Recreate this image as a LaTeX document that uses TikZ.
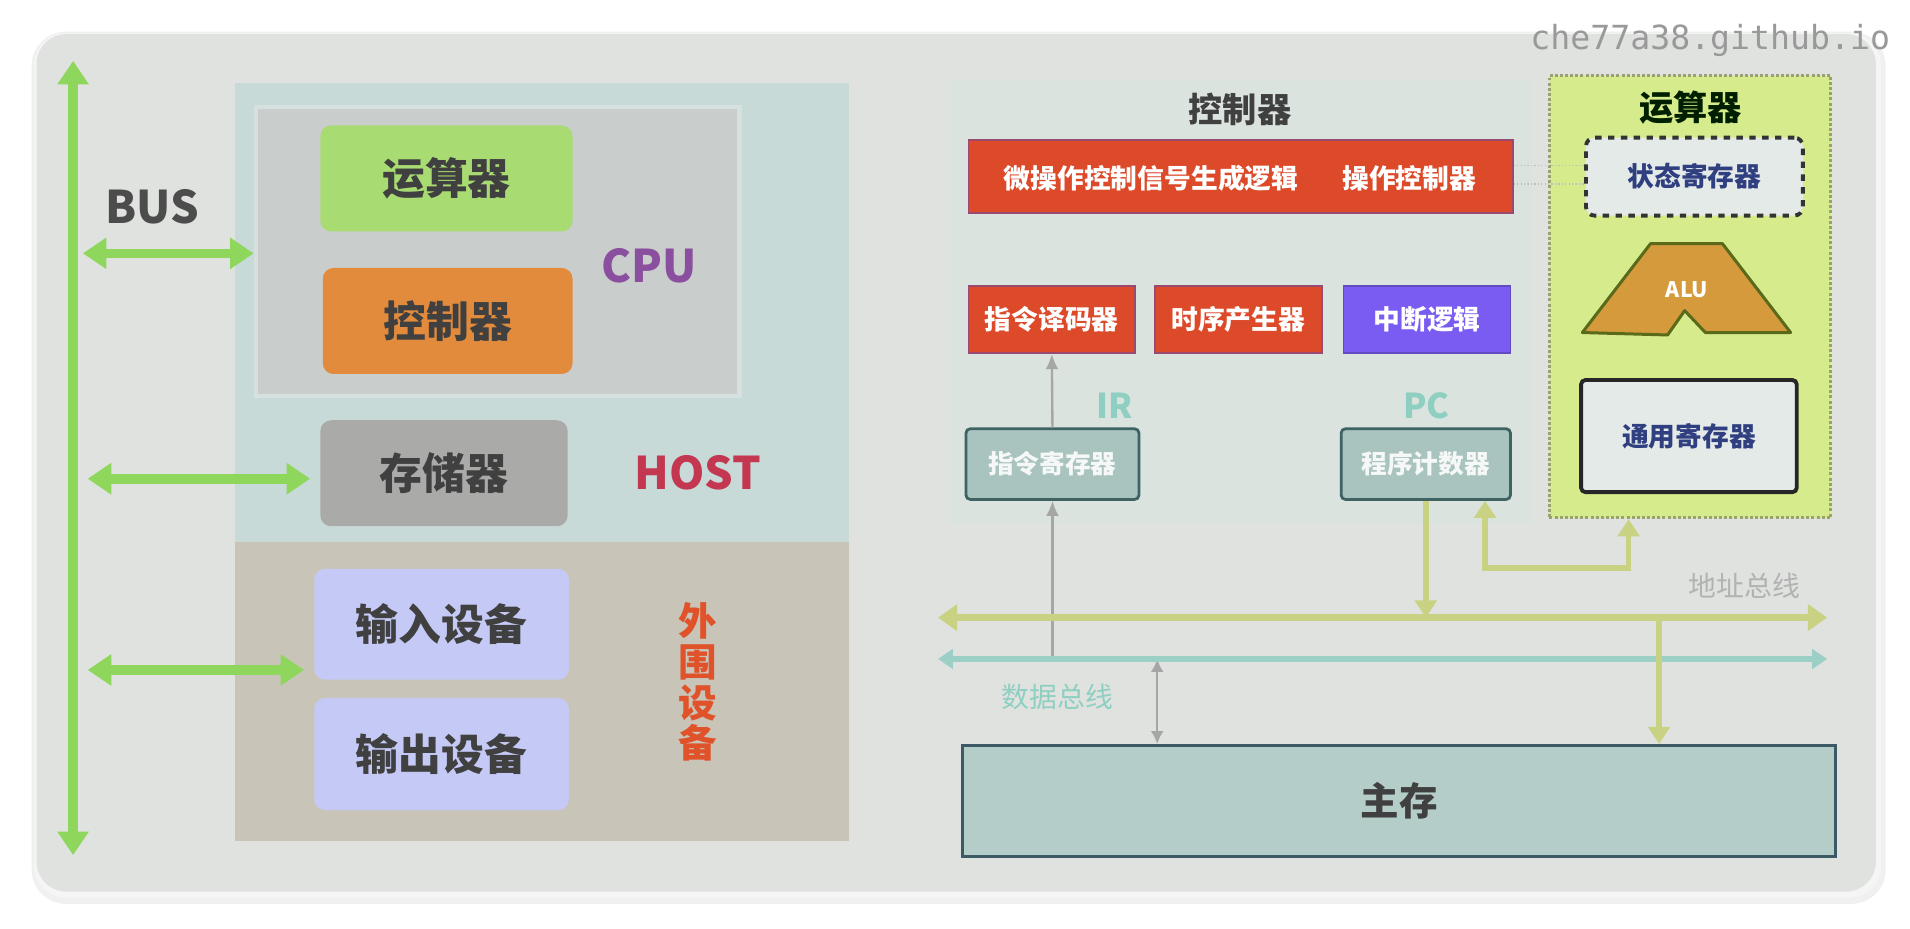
\documentclass[tikz,border=0pt]{standalone}
\usepackage{fontspec}
\setmainfont{Noto Sans CJK SC}
\newfontfamily\markfont{DejaVu Sans Mono}
\usetikzlibrary{arrows.meta,positioning}

\definecolor{panelbg}{HTML}{DFE2DF}
\definecolor{hostup}{HTML}{C8DAD8}
\definecolor{hostdown}{HTML}{C9C4B8}
\definecolor{cpugray}{HTML}{C9CDCC}
\definecolor{cpuedge}{HTML}{D6E0DE}
\definecolor{alugreen}{HTML}{A8DC72}
\definecolor{ctlorange}{HTML}{E38B3C}
\definecolor{memgray}{HTML}{AAABA9}
\definecolor{iolilac}{HTML}{C5C9F6}
\definecolor{busgreen}{HTML}{8FD65C}
\definecolor{cpupurple}{HTML}{8A4F9E}
\definecolor{hostred}{HTML}{C33750}
\definecolor{periorange}{HTML}{E0522A}
\definecolor{ctlpanel}{HTML}{DBE3DF}
\definecolor{ctlred}{HTML}{DD4A2A}
\definecolor{ctlredge}{HTML}{9A4A70}
\definecolor{irqviolet}{HTML}{7A5CF2}
\definecolor{regteal}{HTML}{A9C3BF}
\definecolor{regedge}{HTML}{3F6262}
\definecolor{lblteal}{HTML}{8FCFC2}
\definecolor{addrbus}{HTML}{C9D282}
\definecolor{databus}{HTML}{9CCFC6}
\definecolor{mainfill}{HTML}{B5CDC9}
\definecolor{mainedge}{HTML}{3C5A66}
\definecolor{alupanel}{HTML}{D6EC8C}
\definecolor{dotedge}{HTML}{9AA070}
\definecolor{regwhite}{HTML}{E3EAE8}
\definecolor{navytext}{HTML}{2F3F80}
\definecolor{alubrown}{HTML}{D49A3C}
\definecolor{aluedge}{HTML}{5A6A1A}

\tikzset{
  unit/.style={rounded corners=5pt, inner sep=0pt, text=black!75,
    minimum width=41.4mm, minimum height=17.4mm,
    font=\fontsize{20}{24}\selectfont\bfseries},
  ctlbox/.style={inner sep=0pt, draw=ctlredge, line width=0.8pt, text=white,
    minimum width=27.4mm, minimum height=11mm,
    font=\fontsize{12.5}{14}\selectfont\bfseries},
  regbox/.style={inner sep=0pt, fill=regteal, draw=regedge, line width=1.3pt,
    rounded corners=2pt, text=white!88!regteal,
    minimum width=28mm, minimum height=11.6mm,
    font=\fontsize{12}{14}\selectfont\bfseries},
  busarrow/.style={draw=busgreen, line width=4.5pt,
    {Triangle[width=14pt,length=11pt]}-{Triangle[width=14pt,length=11pt]}},
  abusline/.style={draw=addrbus, line width=3.6pt},
  thinlink/.style={draw=black!35, line width=1.1pt}
}

\begin{document}
\begin{tikzpicture}[x=0.2mm,y=-0.2mm]
    \useasboundingbox (0,0) rectangle (1568,762);
    \fill[white] (0,0) rectangle (1568,762);

    %%%%%%%% Panel %%%%%%%%
    \fill[black!6, rounded corners=16pt] (26,26) rectangle (1548,742);
    \fill[black!4, rounded corners=15pt] (28,27) rectangle (1544,737);
    \fill[panelbg, rounded corners=14pt] (30,28) rectangle (1540,732);

    %%%%%%%% Host %%%%%%%%
    \fill[hostup] (193,68) rectangle (697,445);
    \fill[hostdown] (193,445) rectangle (697,690);
    \node[inner sep=0pt, fill=cpugray, draw=cpuedge, line width=2pt,
          minimum width=79.4mm, minimum height=47.4mm] (cpu) at (408.5,206.5) {};

    \node[unit, fill=alugreen] (alu) at (366.5,146.5) {运算器};
    \node[unit, fill=ctlorange, minimum width=41mm] (ctl) at (367.5,263.5) {控制器};
    \node[unit, fill=memgray, minimum width=40.6mm] (mem) at (364.5,388.5) {存储器};
    \node[unit, fill=iolilac, minimum width=41.8mm, minimum height=18.2mm] (indev) at (362.5,512.5) {输入设备};
    \node[unit, fill=iolilac, minimum width=41.8mm, minimum height=18.4mm] (outdev) at (362.5,619) {输出设备};

    \node[text=cpupurple, font=\fontsize{21}{24}\selectfont\bfseries] (cputxt) at (533,218) {CPU};
    \node[text=hostred, font=\fontsize{21}{24}\selectfont\bfseries] (hosttxt) at (573,388) {HOST};
    \node[text=periorange, align=center, font=\fontsize{18}{19}\selectfont\bfseries] (peritxt) at (573,560) {外\\围\\设\\备};

    %%%%%%%% Bus %%%%%%%%
    \node[text=black!70, font=\fontsize{21}{24}\selectfont\bfseries] (bustxt) at (125,170) {BUS};
    \coordinate (bustop) at (60,50);
    \coordinate (busbot) at (60,702);
    \draw[busarrow] (bustop) -- (busbot);
    \coordinate (tapcpu) at (68,208);
    \coordinate (tapmem) at (72,393);
    \coordinate (tapio) at (72,550);
    \draw[busarrow] (tapcpu) -- (tapcpu -| cpu.west);
    \draw[busarrow] (tapmem) -- ([xshift=-1.6mm]tapmem -| mem.west);
    \draw[busarrow] (tapio) -- ([xshift=-1.6mm]tapio -| indev.west);

    %%%%%%%% Controller %%%%%%%%
    \fill[ctlpanel] (780,65) rectangle (1258,430);
    \node[text=black!75, font=\fontsize{16}{18}\selectfont\bfseries] (ctltitle) at (1018,90) {控制器};
    \node[ctlbox, fill=ctlred, minimum width=89.4mm, minimum height=12mm] (bar) at (1018.5,145) {};
    \node[text=white, font=\fontsize{12.5}{14}\selectfont\bfseries] (microop) at (945,146) {微操作控制信号生成逻辑};
    \node[text=white, font=\fontsize{12.5}{14}\selectfont\bfseries] (opctl) at (1157,146) {操作控制器};
    \node[ctlbox, fill=ctlred] (dec) at (863.5,262.5) {指令译码器};
    \node[ctlbox, fill=ctlred] (timer) at (1016.5,262.5) {时序产生器};
    \node[ctlbox, fill=irqviolet, draw=irqviolet!80!black] (irq) at (1171.5,262.5) {中断逻辑};

    \node[text=lblteal, font=\fontsize{16}{18}\selectfont\bfseries] (irtxt) at (915,333) {IR};
    \node[text=lblteal, font=\fontsize{16}{18}\selectfont\bfseries] (pctxt) at (1171,333) {PC};
    \node[regbox, minimum width=28.4mm] (ir) at (864,381) {指令寄存器};
    \node[regbox, minimum width=27.8mm] (pc) at (1170.5,381) {程序计数器};

    %%%%%%%% ALU side %%%%%%%%
    \node[inner sep=0pt, fill=alupanel, draw=dotedge, densely dotted, line width=1.4pt,
          minimum width=46.2mm, minimum height=72.6mm] (alupane) at (1387.5,243.5) {};
    \node[text=black!70!green!40!black, font=\fontsize{16}{18}\selectfont\bfseries] (alutitle) at (1388,88) {运算器};
    \node[inner sep=0pt, fill=regwhite, draw=black!80, dashed, line width=1.8pt, rounded corners=4pt,
          minimum width=35.6mm, minimum height=12.8mm,
          text=navytext, font=\fontsize{12.5}{14}\selectfont\bfseries] (psw) at (1391,145) {状态寄存器};
    \draw[fill=alubrown, draw=aluedge, line width=1.4pt, line join=round]
        (1299,273) -- (1355,200) -- (1414,200) -- (1470,273) -- (1400,273) -- (1383,255) -- (1369,275) -- cycle;
    \node[text=white, font=\fontsize{10}{12}\selectfont\bfseries] (alutxt) at (1385,238) {ALU};
    \node[inner sep=0pt, fill=regwhite, draw=black!85, line width=1.8pt, rounded corners=2pt,
          minimum width=35.4mm, minimum height=18.4mm,
          text=navytext, font=\fontsize{12.5}{14}\selectfont\bfseries] (gpr) at (1386.5,358) {通用寄存器};
    \draw[black!25, densely dotted, line width=0.6pt] ([yshift=-1.2mm]bar.east) -- ([yshift=-1.2mm]psw.west);
    \draw[black!25, densely dotted, line width=0.6pt] ([yshift=1.8mm]bar.east) -- ([yshift=1.8mm]psw.west);

    %%%%%%%% Buses %%%%%%%%
    \node[inner sep=0pt, fill=mainfill, draw=mainedge, line width=1.4pt,
          minimum width=143.4mm, minimum height=18.2mm,
          text=black!75, font=\fontsize{18}{20}\selectfont\bfseries] (mainmem) at (1148.5,657.5) {主存};
    \coordinate (addrl) at (770,507);
    \coordinate (addrr) at (1500,507);
    \coordinate (datal) at (770,541);
    \coordinate (datar) at (1500,541);
    \coordinate (addrtap) at (1362,507);
    \coordinate (datatap) at (950,541);
    \draw[thinlink, -{Latex[length=7pt,width=6pt]}] (ir.north) -- (dec.south);
    \draw[thinlink, {Latex[length=7pt,width=6pt]}-] (ir.south) -- (ir.south |- datal);
    \draw[thinlink, {Latex[length=6pt,width=6pt]}-{Latex[length=6pt,width=6pt]}] (datatap) -- (datatap |- mainmem.north);
    \draw[abusline, {Triangle[width=12pt,length=9pt]}-{Triangle[width=12pt,length=9pt]}] (addrl) -- (addrr);
    \draw[draw=databus, line width=3pt, {Triangle[width=9pt,length=7pt]}-{Triangle[width=9pt,length=7pt]}] (datal) -- (datar);
    \draw[abusline, line width=2.6pt, -{Triangle[width=10pt,length=8pt]}] (pc.south) -- (pc.south |- addrl);
    \draw[abusline, line width=2.6pt, {Triangle[width=10pt,length=8pt]}-{Triangle[width=10pt,length=8pt]}]
        ([xshift=-4.4mm]pc.south east) |- ([xshift=-10.1mm,yshift=-8mm]alupane.south) -- ([xshift=-10.1mm]alupane.south);
    \draw[abusline, line width=2.6pt, -{Triangle[width=10pt,length=8pt]}] (addrtap) -- (addrtap |- mainmem.north);
    \node[text=black!30, font=\fontsize{13}{15}\selectfont] (addrtxt) at (1432,481) {地址总线};
    \node[text=lblteal, font=\fontsize{13}{15}\selectfont] (datatxt) at (868,572) {数据总线};

    %%%%%%%% Mark %%%%%%%%
    \node[text=black!40, font=\markfont\fontsize{15.5}{17}\selectfont] (mark) at (1404,33) {che77a38.github.io};
\end{tikzpicture}
\end{document}
